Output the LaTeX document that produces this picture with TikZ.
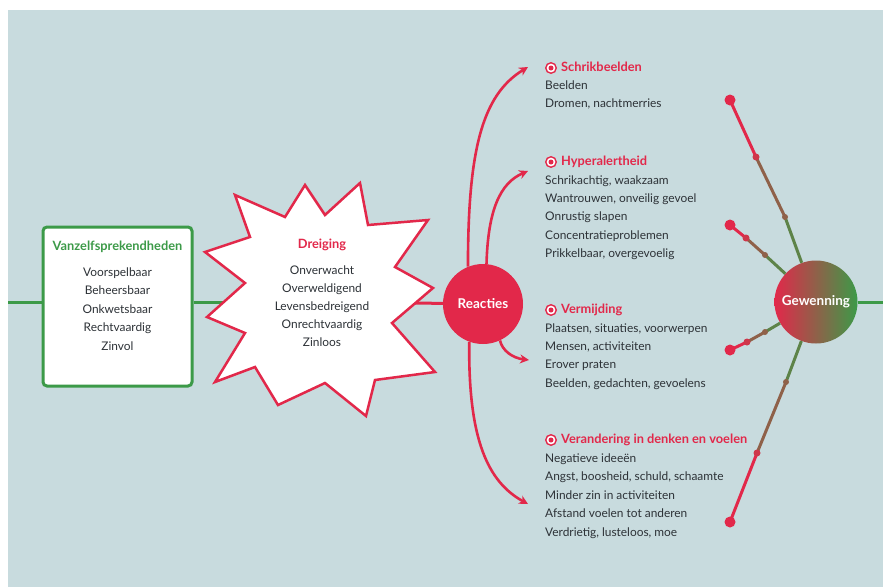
\documentclass[tikz,border=0pt]{standalone}
\usepackage{fontspec}
\setmainfont{Lato}
\usetikzlibrary{arrows.meta,calc}
\definecolor{bgc}{RGB}{200,219,222}
\definecolor{rd}{RGB}{226,40,74}
\definecolor{gn}{RGB}{60,154,72}
\definecolor{tx}{RGB}{45,50,55}
\begin{document}
\begin{tikzpicture}[x=1pt,y=-1pt,
  txt/.style={font=\fontsize{11.9}{13}\selectfont, text=tx, inner sep=0pt, text height=8.5pt, text depth=2.3pt},
  item/.style={txt, anchor=west},
  citem/.style={txt, anchor=center},
  hdr/.style={font=\bfseries\fontsize{12.8}{14}\selectfont, text=rd, inner sep=0pt, text height=9pt, text depth=2.5pt},
  circlbl/.style={circle, inner sep=0pt, text=white, font=\bfseries\fontsize{13.5}{15}\selectfont},
  icon/.style={circle, draw=rd, line width=1.4pt, fill=white, minimum size=10.5pt, inner sep=0pt},
  link/.style={line width=3pt},
  arr/.style={draw=rd, line width=2.6pt, -{Stealth[length=9pt,width=9pt]}},
  bigdot/.style={circle, fill=rd, minimum size=11pt, inner sep=0pt},
  middot/.style={circle, minimum size=7pt, inner sep=0pt},
]
\useasboundingbox (0,0) rectangle (883,587);
\fill[white] (0,0) rectangle (883,587);
\fill[bgc] (8,10) rectangle (883,587);

% ---------- left box
\node[draw=gn, line width=3pt, fill=white, rounded corners=4pt, minimum width=149pt, minimum height=159pt, inner sep=0pt] (vz) at (117.5,306.5) {};
\coordinate (lstart) at (8,302);
\coordinate (starL) at (225,302);
\coordinate (starR) at (415,303);
\draw[gn, link] (lstart) -- (vz.west |- lstart);
\draw[gn, link] (vz.east |- starL) -- (starL);
\node[hdr, text=gn, anchor=center] (vzt) at (117.5,247) {Vanzelfsprekendheden};
\foreach \t [count=\i] in {Voorspelbaar,Beheersbaar,Onkwetsbaar,Rechtvaardig,Zinvol}
  \node[citem] (vz\i) at (117.5,{273+18.5*(\i-1)}) {\t};

% ---------- Reacties
\node[circlbl, fill=rd, minimum size=80pt] (reacties) at (483,304) {Reacties};
\draw[rd, link] (starR) -- (reacties);

% ---------- star
\draw[rd, line width=2.5pt, fill=white, line join=miter]
  (305,185) -- (325,215) -- (360,183) -- (368,225) -- (428,220) -- (395,267)
  -- (433,288) -- (392,323) -- (435,372) -- (375,380) -- (366,416) -- (325,383)
  -- (278,405) -- (255,367) -- (215,382) -- (245,333) -- (207,317) -- (245,283)
  -- (205,252) -- (250,237) -- (235,195) -- (285,217) -- cycle;
\node[hdr, anchor=center] (dr) at (322,245) {Dreiging};
\foreach \t [count=\i] in {Onverwacht,Overweldigend,Levensbedreigend,Onrechtvaardig,Zinloos}
  \node[citem] (dr\i) at (322,{271+18.2*(\i-1)}) {\t};

% ---------- arrows
\coordinate (t1) at (528,67);
\coordinate (t2) at (528,171);
\coordinate (t3) at (529,360);
\coordinate (t4) at (528,504);
\draw[arr] (reacties.112) .. controls (468,150) and (482,95) .. (t1);
\draw[arr] (reacties.85) .. controls (488,210) and (500,183) .. (t2);
\draw[arr] (reacties.-65) .. controls (502,350) and (512,358) .. (t3);
\draw[arr] (reacties.-110) .. controls (468,440) and (488,482) .. (t4);

% ---------- text blocks
\node[icon] (i1) at (551,68) {}; \fill[rd] (i1) circle (2.5pt);
\node[hdr, anchor=west] (h1) at (561,68) {Schrikbeelden};
\foreach \t [count=\i] in {Beelden,{Dromen, nachtmerries}}
  \node[item] (a\i) at (545,{86+18.4*(\i-1)}) {\t};

\node[icon] (i2) at (551,162) {}; \fill[rd] (i2) circle (2.5pt);
\node[hdr, anchor=west] (h2) at (561,162) {Hyperalertheid};
\foreach \t [count=\i] in {{Schrikachtig, waakzaam},{Wantrouwen, onveilig gevoel},Onrustig slapen,Concentratieproblemen,{Prikkelbaar, overgevoelig}}
  \node[item] (b\i) at (545,{181+18.3*(\i-1)}) {\t};

\node[icon] (i3) at (551,310) {}; \fill[rd] (i3) circle (2.5pt);
\node[hdr, anchor=west] (h3) at (561,310) {Vermijding};
\foreach \t [count=\i] in {{Plaatsen, situaties, voorwerpen},{Mensen, activiteiten},Erover praten,{Beelden, gedachten, gevoelens}}
  \node[item] (c\i) at (545,{329+18.3*(\i-1)}) {\t};

\node[icon] (i4) at (551,440) {}; \fill[rd] (i4) circle (2.5pt);
\node[hdr, anchor=west] (h4) at (561,440) {Verandering in denken en voelen};
\foreach \t [count=\i] in {Negatieve ideeën,{Angst, boosheid, schuld, schaamte},Minder zin in activiteiten,Afstand voelen tot anderen,{Verdrietig, lusteloos, moe}}
  \node[item] (e\i) at (545,{459+18.5*(\i-1)}) {\t};

% ---------- Gewenning
\node[circlbl, left color=rd, right color=gn, minimum size=83pt] (gew) at (816,302) {Gewenning};
\coordinate (rend) at (883,302);
\draw[gn, link] (gew) -- (rend);

\foreach \n/\dx/\dy/\ax/\ay/\bx/\by in {1/730/100/756/157/785/217, 2/730/225/746/238/765/255, 3/730/350/747/342/765/332, 4/730/522/757/453/786/382}{
  \coordinate (m\n a) at (\ax,\ay);
  \coordinate (m\n b) at (\bx,\by);
  \coordinate (d\n) at (\dx,\dy);
  \draw[gn!80!rd, link] (m\n b) -- (gew);
  \draw[rd!50!gn, link] (m\n a) -- (m\n b);
  \draw[rd, link] (d\n) -- (m\n a);
  \node[bigdot] (dd\n) at (d\n) {};
  \node[middot, fill=rd!88!gn] (ma\n) at (m\n a) {};
  \node[middot, fill=rd!50!gn, minimum size=6pt] (mb\n) at (m\n b) {};
}
\end{tikzpicture}
\end{document}
